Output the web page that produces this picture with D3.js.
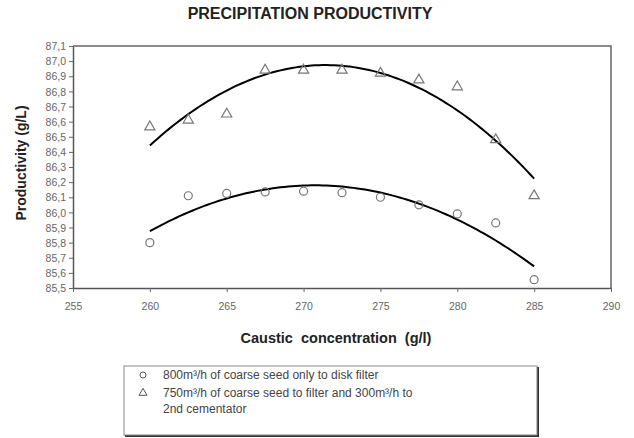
<!DOCTYPE html>
<html>
<head>
<meta charset="utf-8">
<script src="https://cdn.jsdelivr.net/npm/d3@7"></script>
<style>
  body { margin: 0; background: #fff; }
  svg { font-family: "Liberation Sans", Arial, sans-serif; }
</style>
</head>
<body>
<div id="chart"></div>
<script>
// Caustic concentration (g/l)
const caustic = [260, 262.5, 265, 267.5, 270, 272.5, 275, 277.5, 280, 282.5, 285];
// 800 m3/h coarse seed only to disk filter (circles)
const seedDisk = [85.80, 86.11, 86.125, 86.135, 86.14, 86.13, 86.10, 86.05, 85.99, 85.93, 85.555];
// 750 m3/h to filter and 300 m3/h to 2nd cementator (triangles)
const seedCementator = [86.565, 86.61, 86.65, 86.94, 86.94, 86.94, 86.92, 86.875, 86.83, 86.48, 86.11];

const xTicks = [255, 260, 265, 270, 275, 280, 285, 290];
const yTicks = d3.range(855, 872).map(v => v / 10);

const legendLabels = [
    ["800m\u00b3/h of coarse seed only to disk filter"],
    ["750m\u00b3/h of coarse seed to filter and 300m\u00b3/h to", "2nd cementator"]
];

const margin = { top: 46, right: 23, bottom: 150, left: 73 },
      width = 634 - margin.left - margin.right,
      height = 438 - margin.top - margin.bottom;

const svg = d3.select("#chart")
    .append("svg")
    .attr("width", 634)
    .attr("height", 438);

const g = svg.append("g")
    .attr("transform", `translate(${margin.left},${margin.top})`);

const x = d3.scaleLinear().domain([255, 290]).range([0, width]);
const y = d3.scaleLinear().domain([85.5, 87.1]).range([height, 0]);

const fmt = d => d3.format(".1f")(d).replace(".", ",");

// plot box (top and right edges)
g.append("path")
    .attr("d", `M0,0H${width}V${height}`)
    .attr("fill", "none")
    .attr("stroke", "#666")
    .attr("stroke-width", 1.5);

// x axis
const xAxis = g.append("g")
    .attr("transform", `translate(0,${height})`)
    .call(d3.axisBottom(x).tickValues(xTicks).tickSize(4).tickSizeOuter(0).tickFormat(d3.format("d")));

// y axis
const yAxis = g.append("g")
    .call(d3.axisLeft(y).tickValues(yTicks).tickSize(4).tickSizeOuter(0).tickFormat(fmt));

[xAxis, yAxis].forEach(a => {
    a.select(".domain").attr("stroke", "#555").attr("stroke-width", 1.5);
    a.selectAll(".tick line").attr("stroke", "#666");
    a.selectAll("text").attr("fill", "#666").style("font-size", "10.5px");
});
xAxis.selectAll("text").attr("dy", "1.45em");
yAxis.selectAll("text").attr("x", -7).attr("dy", "0.35em");

// quadratic least-squares trend line for a series
function quadFit(xs, ys) {
    const n = xs.length, m = d3.mean(xs);
    const u = xs.map(v => v - m);
    const s = k => d3.sum(u, v => Math.pow(v, k));
    const t = k => d3.sum(u, (v, i) => Math.pow(v, k) * ys[i]);
    const A = [[n, s(1), s(2)], [s(1), s(2), s(3)], [s(2), s(3), s(4)]];
    const b = [t(0), t(1), t(2)];
    // solve with Cramer's rule
    const det = M => M[0][0] * (M[1][1] * M[2][2] - M[1][2] * M[2][1])
                   - M[0][1] * (M[1][0] * M[2][2] - M[1][2] * M[2][0])
                   + M[0][2] * (M[1][0] * M[2][1] - M[1][1] * M[2][0]);
    const D = det(A);
    const c = [0, 1, 2].map(j => det(A.map((row, i) => row.map((v, k) => k === j ? b[i] : v))) / D);
    return v => c[0] + c[1] * (v - m) + c[2] * (v - m) * (v - m);
}

const line = d3.line().x(d => x(d[0])).y(d => y(d[1]));
const xs = d3.range(0, 101).map(i => 260 + i * 0.25);

[seedDisk, seedCementator].forEach(series => {
    const f = quadFit(caustic, series);
    g.append("path")
        .datum(xs.map(v => [v, f(v)]))
        .attr("fill", "none")
        .attr("stroke", "#000")
        .attr("stroke-width", 2)
        .attr("d", line);
});

// circle markers
g.selectAll(".dot")
    .data(caustic.map((c, i) => [c, seedDisk[i]]))
    .enter()
    .append("circle")
    .attr("cx", d => x(d[0]))
    .attr("cy", d => y(d[1]))
    .attr("r", 4)
    .attr("fill", "none")
    .attr("stroke", "#777")
    .attr("stroke-width", 1.2);

// triangle markers
const tri = d3.symbol().type(d3.symbolTriangle).size(45);
g.selectAll(".tri")
    .data(caustic.map((c, i) => [c, seedCementator[i]]))
    .enter()
    .append("path")
    .attr("transform", d => `translate(${x(d[0])},${y(d[1])})`)
    .attr("d", tri)
    .attr("fill", "none")
    .attr("stroke", "#777")
    .attr("stroke-width", 1.2);

// titles
svg.append("text")
    .attr("x", 310)
    .attr("y", 19)
    .attr("text-anchor", "middle")
    .style("font-size", "16px")
    .style("font-weight", "bold")
    .attr("fill", "#222")
    .text("PRECIPITATION PRODUCTIVITY");

svg.append("text")
    .attr("x", 336)
    .attr("y", 343)
    .attr("text-anchor", "middle")
    .style("font-size", "14.5px")
    .style("font-weight", "bold")
    .style("word-spacing", "4px")
    .attr("fill", "#222")
    .text("Caustic concentration (g/l)");

svg.append("text")
    .attr("transform", "rotate(-90)")
    .attr("x", -163)
    .attr("y", 26)
    .attr("text-anchor", "middle")
    .style("font-size", "14px")
    .style("font-weight", "bold")
    .attr("fill", "#222")
    .text("Productivity (g/L)");

// legend
const legend = svg.append("g").attr("transform", "translate(124,366)");
legend.append("rect")
    .attr("x", 1).attr("y", 1)
    .attr("width", 414).attr("height", 70)
    .attr("fill", "#333");
legend.append("rect")
    .attr("width", 413).attr("height", 69)
    .attr("fill", "#fff")
    .attr("stroke", "#888");

legendLabels.forEach((lines, i) => {
    const yy = 13 + i * 18;
    if (i === 0) {
        legend.append("circle")
            .attr("cx", 19).attr("cy", yy - 4).attr("r", 3)
            .attr("fill", "none").attr("stroke", "#555");
    } else {
        legend.append("path")
            .attr("transform", `translate(19,${yy - 4})`)
            .attr("d", d3.symbol().type(d3.symbolTriangle).size(28))
            .attr("fill", "none").attr("stroke", "#555");
    }
    lines.forEach((t, j) => {
        legend.append("text")
            .attr("x", 39)
            .attr("y", yy + j * 16)
            .style("font-size", "12px")
            .attr("fill", "#444")
            .text(t);
    });
});
</script>
</body>
</html>
